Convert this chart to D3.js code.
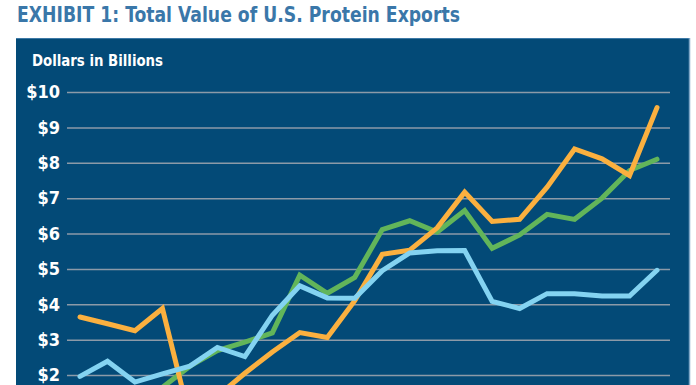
<!DOCTYPE html>
<html>
<head>
    <title>Total Value of U.S. Protein Exports</title>
    <script src="https://d3js.org/d3.v7.min.js"></script>
    <style>
        body { margin: 0; background: #fff; }
        .title { font-family: "Liberation Sans Narrow", "DejaVu Sans Condensed", sans-serif; font-weight: bold; fill: #3a77a9; }
        .lab { font-family: "Liberation Sans Narrow", "DejaVu Sans Condensed", sans-serif; font-weight: bold; fill: #fff; }
        .grid line { stroke: #8c9aa8; stroke-width: 1.5px; }
        .grid path { display: none; }
        .series { fill: none; stroke-width: 5px; stroke-linecap: round; stroke-linejoin: miter; }
    </style>
</head>
<body>
    <script>
        // Data (values in $ billions)
        var years = d3.range(2000, 2022);
        var beef = [3.64, 3.45, 3.25, 3.88, 0.75, 1.4, 2.05, 2.65, 3.2, 3.06, 4.1, 5.41,
                    5.53, 6.16, 7.17, 6.34, 6.4, 7.31, 8.39, 8.11, 7.64, 9.56];
        var pork = [1.3, 1.25, 1.4, 1.65, 2.25, 2.69, 2.93, 3.19, 4.82, 4.31, 4.76, 6.11,
                    6.36, 6.04, 6.65, 5.58, 5.96, 6.54, 6.4, 7.0, 7.78, 8.1];
        var poultry = [1.96, 2.39, 1.8, 2.03, 2.25, 2.78, 2.52, 3.69, 4.52, 4.18, 4.17, 4.95,
                       5.45, 5.51, 5.52, 4.08, 3.88, 4.3, 4.3, 4.23, 4.23, 4.96];
        var yTicks = [2, 3, 4, 5, 6, 7, 8, 9, 10];

        var W = 696, H = 385;

        var svg = d3.select("body").append("svg")
            .attr("width", W)
            .attr("height", H);

        // Title (squeezed to the condensed width of the original face)
        svg.append("text")
            .attr("class", "title")
            .attr("x", 17)
            .attr("y", 21.5)
            .attr("textLength", 443)
            .attr("lengthAdjust", "spacingAndGlyphs")
            .style("font-size", "22px")
            .text("EXHIBIT 1: Total Value of U.S. Protein Exports");

        // Panel
        svg.append("rect")
            .attr("x", 16).attr("y", 38)
            .attr("width", 673).attr("height", H - 38)
            .attr("fill", "#034a77");
        svg.append("line")
            .attr("x1", 16).attr("x2", 690).attr("y1", 38.5).attr("y2", 38.5)
            .attr("stroke", "#3d79a6").attr("stroke-width", 1);
        svg.append("line")
            .attr("x1", 689.5).attr("x2", 689.5).attr("y1", 38).attr("y2", H)
            .attr("stroke", "#7fa6c6").attr("stroke-width", 1.5);

        // Scales
        var x = d3.scalePoint().domain(years).range([80, 657]);
        var y = d3.scaleLinear().domain([2, 10]).range([375, 92]);

        // Gridlines
        svg.append("g")
            .attr("class", "grid")
            .attr("transform", "translate(67,0)")
            .call(d3.axisRight(y).tickValues(yTicks).tickSize(603).tickFormat(""));

        // Y labels
        svg.selectAll(".ylab")
            .data(yTicks)
            .enter().append("text")
            .attr("class", "lab")
            .attr("x", 60)
            .attr("y", function(d) { return y(d); })
            .attr("dy", "0.35em")
            .attr("text-anchor", "end")
            .style("font-size", "18px")
            .text(function(d) { return "$" + d; });

        svg.append("text")
            .attr("class", "lab")
            .attr("x", 32)
            .attr("y", 66)
            .attr("textLength", 131)
            .attr("lengthAdjust", "spacingAndGlyphs")
            .style("font-size", "16px")
            .text("Dollars in Billions");

        // Lines
        var line = d3.line()
            .x(function(d, i) { return x(years[i]); })
            .y(function(d) { return y(d); });

        var series = [
            {name: "pork", values: pork, color: "#62b55a"},
            {name: "beef", values: beef, color: "#fbb03f"},
            {name: "poultry", values: poultry, color: "#84d3f1"}
        ];

        svg.selectAll(".series")
            .data(series)
            .enter().append("path")
            .attr("class", "series")
            .attr("stroke", function(d) { return d.color; })
            .attr("d", function(d) { return line(d.values); });
    </script>
</body>
</html>
